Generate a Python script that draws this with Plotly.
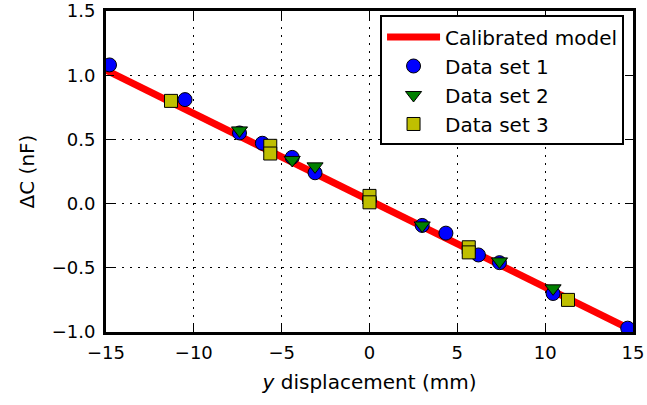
import plotly.graph_objects as go

# Calibrated model (line endpoints)
model_x = [-15, 15]
model_y = [1.04, -0.99]

# Data set 1 (blue circles)
d1_x = [-14.8, -10.5, -7.4, -6.1, -4.4, -3.1, 0.0, 3.0, 4.35, 6.2, 7.4, 10.45, 14.7]
d1_y = [1.08, 0.81, 0.55, 0.47, 0.36, 0.24, 0.03, -0.17, -0.23, -0.40, -0.46, -0.70, -0.97]

# Data set 2 (green triangles)
d2_x = [-7.4, -4.4, -3.1, 3.0, 7.4, 10.45]
d2_y = [0.57, 0.34, 0.29, -0.17, -0.45, -0.66]

# Data set 3 (yellow squares)
d3_x = [-11.3, -5.65, -5.65, 0.0, 0.0, 5.65, 5.65, 11.3]
d3_y = [0.80, 0.45, 0.39, 0.06, 0.01, -0.34, -0.38, -0.75]

x_ticks = [-15, -10, -5, 0, 5, 10, 15]
y_ticks = [-1.0, -0.5, 0.0, 0.5, 1.0, 1.5]

font = "DejaVu Sans"
fig = go.Figure()
fig.add_trace(go.Scatter(x=model_x, y=model_y, mode="lines",
                         line=dict(color="red", width=7), name="Calibrated model"))
fig.add_trace(go.Scatter(x=d1_x, y=d1_y, mode="markers", name="Data set 1",
                         marker=dict(symbol="circle", size=14, color="#0000ff",
                                     line=dict(color="black", width=1))))
fig.add_trace(go.Scatter(x=d2_x, y=d2_y, mode="markers", name="Data set 2",
                         marker=dict(symbol="triangle-down", size=14, color="#008000",
                                     line=dict(color="black", width=1))))
fig.add_trace(go.Scatter(x=d3_x, y=d3_y, mode="markers", name="Data set 3",
                         marker=dict(symbol="square", size=13, color="#bfbf00",
                                     line=dict(color="black", width=1))))

axis_common = dict(showline=True, linecolor="black", linewidth=3, mirror="ticks",
                   ticks="inside", ticklen=8, tickwidth=1, tickcolor="black",
                   showgrid=True, gridcolor="black", gridwidth=1, griddash="2px,6px",
                   zeroline=False, automargin=False,
                   tickfont=dict(family=font, size=18, color="black"))

fig.update_xaxes(range=[-15, 15], tickvals=x_ticks,
                 ticktext=[("\u2212" + str(abs(v))) if v < 0 else str(v) for v in x_ticks],
                 ticklabelstandoff=2,
                 title=dict(text="<i>y</i> displacement (mm)",
                            font=dict(family=font, size=20, color="black"), standoff=14),
                 **axis_common)
fig.update_yaxes(range=[-1.0, 1.5], tickvals=y_ticks,
                 ticktext=[("\u2212" + f"{abs(v):.1f}") if v < 0 else f"{v:.1f}" for v in y_ticks],
                 ticklabelstandoff=4,
                 title=dict(text="\u0394C (nF)",
                            font=dict(family=font, size=20, color="black"), standoff=12),
                 **axis_common)

fig.update_layout(
    width=647, height=405,
    margin=dict(l=106, r=14, t=11, b=73),
    plot_bgcolor="white", paper_bgcolor="white",
    font=dict(family=font, size=20, color="black"),
    showlegend=True,
    legend=dict(x=0.983, y=0.986, xanchor="right", yanchor="top",
                bgcolor="white", bordercolor="black", borderwidth=2,
                font=dict(family=font, size=20, color="black"),
                tracegroupgap=0, itemwidth=53),
)

fig.write_html("out.html")
